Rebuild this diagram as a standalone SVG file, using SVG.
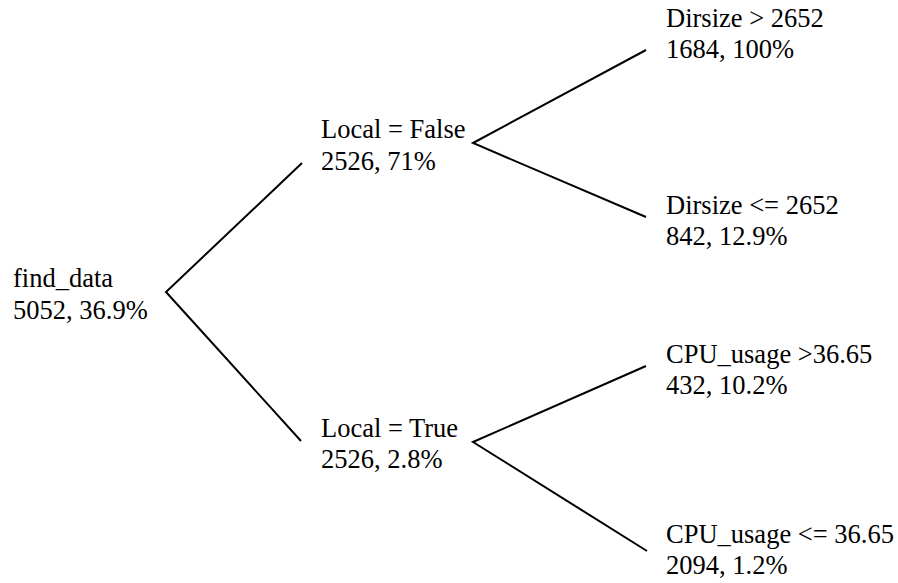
<svg xmlns="http://www.w3.org/2000/svg" width="898" height="583" viewBox="0 0 898 583">
<style>
text{font-family:'Liberation Serif',Tinos,'DejaVu Serif',serif;font-size:26.5px;fill:#000}
.c polyline{stroke:#000;stroke-width:2;fill:none}
</style>
<rect width="898" height="583" fill="#fff"/>
<g class="c" id="connectors">
<polyline points="302,163 166,292 301,441"/>
<polyline points="646,50 473,143 646,217"/>
<polyline points="646,366 473,442 647,551"/>
</g>
<g id="root"><text x="13" y="287">find_data</text><text x="13" y="319">5052, 36.9%</text></g>
<g id="local-false"><text x="321" y="138">Local = False</text><text x="321" y="170">2526, 71%</text></g>
<g id="local-true"><text x="321" y="437">Local = True</text><text x="321" y="468">2526, 2.8%</text></g>
<g id="dirsize-gt"><text x="666" y="27">Dirsize &gt; 2652</text><text x="666" y="58">1684, 100%</text></g>
<g id="dirsize-le"><text x="666" y="214">Dirsize &lt;= 2652</text><text x="666" y="245">842, 12.9%</text></g>
<g id="cpu-gt"><text x="666" y="363">CPU_usage &gt;36.65</text><text x="666" y="394">432, 10.2%</text></g>
<g id="cpu-le"><text x="666" y="543">CPU_usage &lt;= 36.65</text><text x="666" y="574">2094, 1.2%</text></g>
</svg>
